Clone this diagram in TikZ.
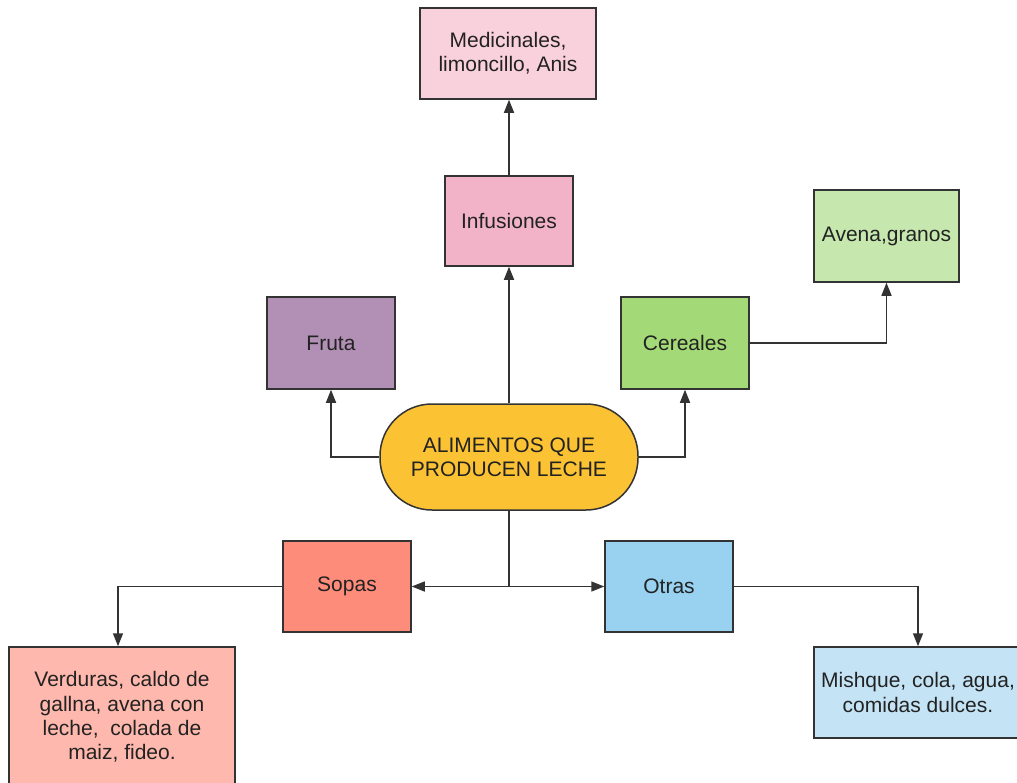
\documentclass[tikz,border=0pt]{standalone}
\usepackage{fontspec}
\setmainfont{Liberation Sans}
\usetikzlibrary{arrows.meta}
\definecolor{edge}{HTML}{333333}
\definecolor{ink}{HTML}{222222}
\definecolor{cMed}{HTML}{F9D1DD}
\definecolor{cInf}{HTML}{F2B3C9}
\definecolor{cFru}{HTML}{B28FB4}
\definecolor{cCer}{HTML}{A3D977}
\definecolor{cAve}{HTML}{C6E8AE}
\definecolor{cMain}{HTML}{FBC234}
\definecolor{cSop}{HTML}{FE8C7A}
\definecolor{cOtr}{HTML}{99D1F1}
\definecolor{cVer}{HTML}{FFB8AD}
\definecolor{cMis}{HTML}{C4E4F6}
\tikzset{
  box/.style={draw=edge, line width=1.5pt, rectangle, align=center, text=ink,
    inner sep=0pt, font=\fontsize{21}{24.3}\selectfont},
  mainbox/.style={box, rounded corners=52pt, minimum width=258pt, minimum height=106pt},
  link/.style={draw=edge, line width=1.5pt},
  arrowlink/.style={link, -{Triangle[length=13pt,width=10pt]}},
}
\begin{document}
\begin{tikzpicture}[x=1pt,y=-1pt]
\useasboundingbox (0,0) rectangle (1017,782);
\clip (0,0) rectangle (1017,782);
% nodes
\node[mainbox, fill=cMain] (main) at (509,457) {ALIMENTOS QUE\\PRODUCEN LECHE};
\node[box, fill=cInf, minimum width=128pt, minimum height=90pt] (inf) at (509,221) {Infusiones};
\node[box, fill=cMed, minimum width=176pt, minimum height=91pt] (med) at (508,53.5) {Medicinales,\\limoncillo, Anis};
\node[box, fill=cFru, minimum width=128pt, minimum height=92pt] (fru) at (331,343) {Fruta};
\node[box, fill=cCer, minimum width=128pt, minimum height=92pt] (cer) at (685,343) {Cereales};
\node[box, fill=cAve, minimum width=145pt, minimum height=92pt] (ave) at (886.5,236) {Avena,granos};
\node[box, fill=cSop, minimum width=128pt, minimum height=91pt] (sop) at (347,586.5) {Sopas};
\node[box, fill=cOtr, minimum width=128pt, minimum height=91pt] (otr) at (669,586.5) {Otras};
\node[box, fill=cVer, minimum width=226pt, minimum height=140pt] (ver) at (122,717) {Verduras, caldo de\\gallna, avena con\\leche,\ \ colada de\\maiz, fideo.};
\node[box, fill=cMis, minimum width=208pt, minimum height=91pt] (mis) at (918,692.5) {Mishque, cola, agua,\\comidas dulces.};
\coordinate (hub) at (main.south |- sop.east);
% connectors
\draw[arrowlink] (main.north) -- (inf.south);
\draw[arrowlink] (inf.north) -- (inf.north |- med.south);
\draw[arrowlink] (main.west) -| (fru.south);
\draw[arrowlink] (main.east) -| (cer.south);
\draw[arrowlink] (cer.east) -| (ave.south);
\draw[link] (main.south) -- (hub);
\draw[arrowlink] (hub) -- (sop.east);
\draw[arrowlink] (hub) -- (otr.west);
\draw[arrowlink] (sop.west) -| ([xshift=-4pt]ver.north);
\draw[arrowlink] (otr.east) -| (mis.north);
\end{tikzpicture}
\end{document}
